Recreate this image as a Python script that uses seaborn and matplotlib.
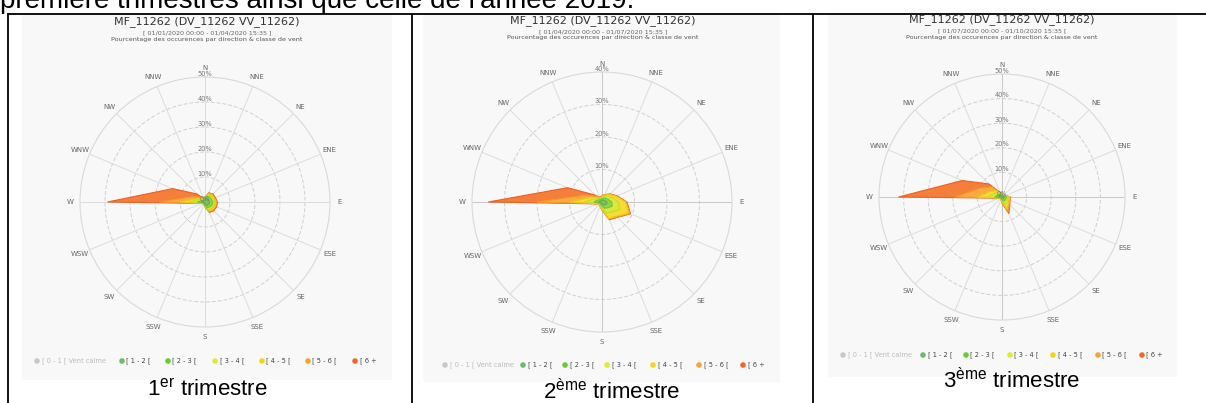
import numpy as np
import matplotlib
matplotlib.use("Agg")
import matplotlib.pyplot as plt
import seaborn as sns
from matplotlib.patches import Rectangle

sns.set_theme(style="white")
plt.rcParams['font.family'] = ['DejaVu Sans']
plt.rcParams['mathtext.fontset'] = 'custom'
plt.rcParams['mathtext.rm'] = 'Liberation Sans'

# ---------------- data ----------------
directions = ["N", "NNE", "NE", "ENE", "E", "ESE", "SE", "SSE",
              "S", "SSW", "SW", "WSW", "W", "WNW", "NW", "NNW"]
legend_labels = ["[ 0 - 1 [ Vent calme", "[ 1 - 2 [", "[ 2 - 3 [", "[ 3 - 4 [",
                 "[ 4 - 5 [", "[ 5 - 6 [", "[ 6 +"]

titles = ["MF_11262 (DV_11262 VV_11262)"] * 3
periods = ["[ 01/01/2020 00:00 - 01/04/2020 15:35 ]",
           "[ 01/04/2020 00:00 - 01/07/2020 15:35 ]",
           "[ 01/07/2020 00:00 - 01/10/2020 15:35 ["]
subtitle2 = "Pourcentage des occurences par direction & classe de vent"
captions = [r"1$^{\mathrm{er}}$ trimestre", r"2$^{\mathrm{ème}}$ trimestre", r"3$^{\mathrm{ème}}$ trimestre"]
top_text = "première trimestres ainsi que celle de l'année 2019."
rmax_values = [50, 40, 50]

# 1er trimestre (% per class)
q1_c1 = [0.8, 1.5, 1.5, 1.5, 1.8, 1.8, 1.5, 1.5, 0.8, 0.5, 0.4, 0.6, 1.5, 0.8, 0.5, 0.5]
q1_c2 = [0.4, 1.0, 1.2, 1.2, 1.3, 1.3, 1.2, 1.0, 0.5, 0.2, 0.2, 0.3, 1.5, 0.7, 0.5, 0.3]
q1_c3 = [0.3, 0.6, 0.7, 0.7, 0.8, 0.8, 0.9, 0.8, 0.3, 0.1, 0.1, 0.2, 3.0, 1.0, 0.5, 0.2]
q1_c4 = [0.2, 0.4, 0.5, 0.5, 0.5, 0.5, 0.6, 0.5, 0.2, 0.1, 0.1, 0.2, 4.0, 1.0, 0.5, 0.2]
q1_c5 = [0.1, 0.3, 0.3, 0.3, 0.3, 0.3, 0.4, 0.4, 0.1, 0.1, 0.1, 0.1, 8.0, 2.0, 0.8, 0.2]
q1_c6 = [0.1, 0.2, 0.3, 0.3, 0.3, 0.3, 0.4, 0.3, 0.1, 0.0, 0.1, 0.1, 21.0, 8.5, 1.7, 0.1]

# 2eme trimestre
q2_c1 = [0.6, 0.7, 0.8, 1.0, 1.5, 1.6, 1.2, 1.0, 0.6, 0.5, 0.4, 0.4, 1.0, 0.7, 0.5, 0.4]
q2_c2 = [0.5, 0.6, 0.8, 1.1, 1.5, 1.8, 1.3, 1.1, 0.6, 0.4, 0.3, 0.4, 1.5, 0.8, 0.5, 0.3]
q2_c3 = [0.4, 0.6, 0.9, 1.4, 2.0, 2.5, 1.8, 1.6, 0.6, 0.3, 0.15, 0.3, 3.0, 1.0, 0.5, 0.3]
q2_c4 = [0.3, 0.4, 0.7, 1.1, 2.2, 3.0, 1.9, 1.8, 0.5, 0.2, 0.1, 0.2, 4.5, 1.2, 0.5, 0.2]
q2_c5 = [0.1, 0.1, 0.2, 0.2, 0.3, 0.4, 0.3, 0.2, 0.1, 0.05, 0.03, 0.1, 10.0, 1.8, 0.5, 0.2]
q2_c6 = [0.1, 0.1, 0.1, 0.2, 0.2, 0.2, 0.2, 0.2, 0.1, 0.05, 0.02, 0.1, 15.0, 6.0, 0.5, 0.1]

# 3eme trimestre
q3_c1 = [0.5, 0.4, 0.4, 0.5, 1.0, 0.8, 0.8, 0.8, 0.5, 0.4, 0.3, 0.4, 1.5, 1.0, 0.8, 0.4]
q3_c2 = [0.4, 0.3, 0.3, 0.4, 0.9, 0.9, 1.0, 1.0, 0.5, 0.3, 0.2, 0.3, 1.5, 1.0, 0.8, 0.4]
q3_c3 = [0.3, 0.15, 0.15, 0.3, 0.7, 0.8, 1.0, 1.5, 0.6, 0.1, 0.1, 0.2, 3.0, 1.5, 1.0, 0.4]
q3_c4 = [0.2, 0.1, 0.1, 0.2, 0.5, 0.6, 0.9, 2.0, 0.5, 0.1, 0.1, 0.1, 4.0, 2.0, 1.2, 0.3]
q3_c5 = [0.05, 0.03, 0.03, 0.05, 0.2, 0.3, 0.5, 1.3, 0.3, 0.05, 0.05, 0.1, 9.0, 4.0, 2.0, 0.3]
q3_c6 = [0.05, 0.02, 0.02, 0.05, 0.1, 0.1, 0.3, 0.7, 0.1, 0.05, 0.05, 0.1, 23.0, 8.0, 1.7, 0.2]

panels = [
    [q1_c1, q1_c2, q1_c3, q1_c4, q1_c5, q1_c6],
    [q2_c1, q2_c2, q2_c3, q2_c4, q2_c5, q2_c6],
    [q3_c1, q3_c2, q3_c3, q3_c4, q3_c5, q3_c6],
]

# ---------------- style ----------------
legend_colors = sns.color_palette(["#c8c8c8", "#69bd6a", "#66cc33", "#dfeb2c",
                                   "#f7d516", "#f9a232", "#f46624"])
area_colors = sns.color_palette(["#74c365", "#8fd445", "#d9ea3c", "#f6dc33", "#f9ab3f", "#f47e3a"])
edge_colors = sns.color_palette(["#5fae55", "#78c235", "#c8da2a", "#eccb18", "#f39a2a", "#ec6020"])

W_PX, H_PX, DPI = 1206, 403, 100
fig = plt.figure(figsize=(W_PX / DPI, H_PX / DPI), dpi=DPI)
fig.patch.set_facecolor("white")

base = fig.add_axes([0, 0, 1, 1])
base.set_xlim(0, W_PX)
base.set_ylim(H_PX, 0)
base.axis("off")

# layout (pixels)
boxes = [(22, 15, 392, 380), (423, 15, 780, 382), (828, 15, 1177, 377)]
centers = [(205, 202, 125), (602, 202, 130), (1002, 197, 123)]
title_y = [(22, 33, 40), (21, 31.5, 38), (20, 30.5, 37)]
title_x = [207, 603, 1002]
legend_rows = [361, 365, 355]
legend_x = [[37, 122, 168, 215, 262, 308, 355],
            [445, 523, 565, 607, 653, 699, 743],
            [843, 923, 966, 1010, 1053, 1098, 1142]]
caption_pos = [(207, 390), (612, 392), (1012, 381)]
label_offsets = [(1.07, 1.08), (1.062, 1.077), (1.07, 1.08)]

# top sentence (cut off by the image border, as in the reference)
base.text(0, 8, top_text, fontsize=20, family="Liberation Sans", color="black",
          ha="left", va="baseline")

# table lines
lc = "black"
base.plot([8, W_PX], [14, 14], color=lc, lw=1.3)
for x in (8, 412, 813):
    base.plot([x, x], [14, H_PX], color=lc, lw=1.3)

theta = np.deg2rad(np.arange(len(directions)) * 22.5)
theta_c = np.append(theta, theta[0])
circ = np.linspace(0, 2 * np.pi, 361)

for i in range(3):
    x0, y0, x1, y1 = boxes[i]
    rect = Rectangle((x0, y0), x1 - x0, y1 - y0, facecolor="#f8f8f8", edgecolor="none")
    base.add_patch(rect)
    tx = title_x[i]
    ty = title_y[i]
    base.text(tx, ty[0], titles[i], fontsize=8, color="#333333", ha="center", va="center")
    base.text(tx, ty[1], periods[i], fontsize=4.6, color="#666666", ha="center", va="center")
    base.text(tx, ty[2], subtitle2, fontsize=4.6, color="#555555", ha="center", va="center")

    # legend
    ly = legend_rows[i]
    for k, lab in enumerate(legend_labels):
        lx = legend_x[i][k]
        base.scatter([lx], [ly], s=16, color=legend_colors[k], edgecolor="none", zorder=3)
        t = base.text(lx + 4.5, ly, lab, fontsize=4.8,
                      color="#bbbbbb" if k == 0 else "#444444", ha="left", va="center")
        t.set_clip_path(rect)

    # caption
    cx, cy = caption_pos[i]
    base.text(cx, cy, captions[i], fontsize=16, family="Liberation Sans", color="black",
              ha="center", va="center")

    # wind rose
    pcx, pcy, R = centers[i]
    ax = fig.add_axes([(pcx - R) / W_PX, (H_PX - pcy - R) / H_PX, 2 * R / W_PX, 2 * R / H_PX],
                      projection="polar")
    ax.set_facecolor("none")
    ax.set_theta_zero_location("N")
    ax.set_theta_direction(-1)
    rmax = rmax_values[i]
    ax.set_ylim(0, rmax)
    ax.set_xticks([])
    ax.set_yticks([])
    ax.grid(False)
    ax.spines["polar"].set_color("#d9d9d9")
    ax.spines["polar"].set_linewidth(0.8)

    for r in range(10, rmax, 10):
        ax.plot(circ, np.full_like(circ, r), color="#d0d0d0", lw=0.7, ls=(0, (4, 2)), zorder=1)
    for k, th in enumerate(theta):
        col = "#c8c8c8" if (i > 0 and k % 4 == 0) else "#dcdcdc"
        ax.plot([th, th], [0, rmax], color=col, lw=0.7, zorder=1)

    data = np.array(panels[i])
    cum = np.cumsum(data, axis=0)
    for k in range(5, -1, -1):
        rr = np.append(cum[k], cum[k][0])
        ax.fill(theta_c, rr, facecolor=area_colors[k], edgecolor=edge_colors[k],
                lw=0.8, zorder=2 + (5 - k) * 0.1)

    for r in range(10, rmax + 1, 10):
        ax.text(0, r + rmax * 0.003, f"{r}%", fontsize=4.8, color="#777777",
                ha="center", va="bottom", zorder=5)
    if i != 1:
        ax.text(0, 0, "0%", fontsize=4.8, color="#777777", ha="center", va="bottom", zorder=5)
    n_off, o_off = label_offsets[i]
    for k, lab in enumerate(directions):
        off = n_off if k == 0 else o_off
        ax.text(theta[k], rmax * off, lab, fontsize=5, color="#666666",
                ha="center", va="center", clip_on=False)

fig.savefig("out.png", dpi=DPI)
